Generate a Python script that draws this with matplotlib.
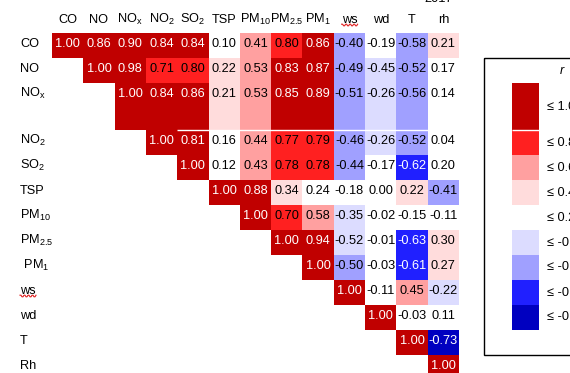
import numpy as np
import matplotlib
matplotlib.use("Agg")
import matplotlib.pyplot as plt
from matplotlib.colors import ListedColormap
from matplotlib.patches import Rectangle
from matplotlib.lines import Line2D
from matplotlib.transforms import IdentityTransform

plt.rcParams['font.family'] = ['Liberation Sans', 'DejaVu Sans']
plt.rcParams['mathtext.fontset'] = 'custom'
plt.rcParams['mathtext.rm'] = 'Liberation Sans'
plt.rcParams['mathtext.it'] = 'Liberation Sans:italic'
plt.rcParams['mathtext.bf'] = 'Liberation Sans:bold'

# variables (order of rows and columns)
names = ["CO", "NO", "NOx", "NO2", "SO2", "TSP", "PM10", "PM2.5", "PM1", "ws", "wd", "T", "rh"]
col_labels = ["CO", "NO", "NO$_{\\mathrm{x}}$", "NO$_2$", "SO$_2$", "TSP", "PM$_{10}$",
              "PM$_{2.5}$", "PM$_1$", "ws", "wd", "T", "rh"]
row_labels = ["CO", "NO", "NO$_{\\mathrm{x}}$", "NO$_2$", "SO$_2$", "TSP", "PM$_{10}$",
              "PM$_{2.5}$", " PM$_1$", "ws", "wd", "T", "Rh"]

# upper triangle of the correlation matrix, diagonal first
upper_rows = [
    [1.00, 0.86, 0.90, 0.84, 0.84, 0.10, 0.41, 0.80, 0.86, -0.40, -0.19, -0.58, 0.21],
    [1.00, 0.98, 0.71, 0.80, 0.22, 0.53, 0.83, 0.87, -0.49, -0.45, -0.52, 0.17],
    [1.00, 0.84, 0.86, 0.21, 0.53, 0.85, 0.89, -0.51, -0.26, -0.56, 0.14],
    [1.00, 0.81, 0.16, 0.44, 0.77, 0.79, -0.46, -0.26, -0.52, 0.04],
    [1.00, 0.12, 0.43, 0.78, 0.78, -0.44, -0.17, -0.62, 0.20],
    [1.00, 0.88, 0.34, 0.24, -0.18, 0.00, 0.22, -0.41],
    [1.00, 0.70, 0.58, -0.35, -0.02, -0.15, -0.11],
    [1.00, 0.94, -0.52, -0.01, -0.63, 0.30],
    [1.00, -0.50, -0.03, -0.61, 0.27],
    [1.00, -0.11, 0.45, -0.22],
    [1.00, -0.03, 0.11],
    [1.00, -0.73],
    [1.00],
]

# shading classes (right closed), from dark blue to dark red
class_bounds = [-0.7, -0.6, -0.4, -0.2, 0.2, 0.4, 0.6, 0.8]
class_tops = class_bounds + [1.0]
class_colors = ["#0000C0", "#2020FF", "#A0A0FF", "#DCDCFF", "#FFFFFF",
                "#FFDCDC", "#FFA0A0", "#FF2020", "#C00000"]
white_text = [0, 1, 8]

# cells whose shade in the table differs from its class
shade_override = {("NO", "wd"): 3, ("TSP", "PM1"): 4, ("PM2.5", "ws"): 3}

# table row heights (NOx row is taller)
row_heights = [1, 1, 1.88] + [1] * 10
edges = np.concatenate([[0], np.cumsum(row_heights)])

n = len(names)
r = np.full((n, n), np.nan)
for i, vals in enumerate(upper_rows):
    r[i, i:] = vals

cls = np.digitize(np.nan_to_num(r), class_bounds, right=True)
for (a, b), k in shade_override.items():
    cls[names.index(a), names.index(b)] = k
cls = np.ma.masked_where(np.isnan(r), cls)

fig = plt.figure(figsize=(5.7, 3.73), dpi=100)
W, H = 570.0, 373.0
top_px, unit = 33.0, 25.0
bottom_px = top_px + edges[-1] * unit

ax = fig.add_axes([52 / W, (H - bottom_px) / H, 407 / W, (bottom_px - top_px) / H])
cmap = ListedColormap(class_colors)
ax.pcolormesh(np.arange(n + 1), edges, cls, cmap=cmap, vmin=-0.5, vmax=8.5,
              shading="flat", edgecolors="none", antialiased=False)
ax.hlines(edges[3], 4, 12, color="white", lw=1)
ax.set_xlim(0, n)
ax.set_ylim(edges[-1], 0)
for s in ax.spines.values():
    s.set_visible(False)
ax.set_xticks([])
ax.set_yticks([])

fs = 9.2
for i in range(n):
    for j in range(i, n):
        k = cls[i, j]
        ax.text(j + 0.5, edges[i] + 0.56, "{:.2f}".format(r[i, j]), ha="center", va="baseline",
                fontsize=fs, color="white" if k in white_text else "black")

header_texts = []
for j, lab in enumerate(col_labels):
    t = ax.text(j + 0.5, -0.4, lab, ha="center", va="baseline", fontsize=fs, clip_on=False)
    header_texts.append(t)

row_texts = []
for i, lab in enumerate(row_labels):
    t = ax.text(-32 / 407, edges[i] + 0.56, lab, ha="left", va="baseline", fontsize=fs,
                transform=ax.get_yaxis_transform(), clip_on=False)
    row_texts.append(t)

ax.text(12.36, -1.24, "2017", ha="center", va="baseline", fontsize=fs, clip_on=False)

# legend table
ax_leg = fig.add_axes([484 / W, (H - bottom_px) / H, 116 / W, (bottom_px - top_px) / H], sharey=ax)
ax_leg.set_xlim(0, 1)
ax_leg.set_axis_off()
leg_rows = [2 + (len(class_colors) - 1 - k) for k in range(len(class_colors))]
ax_leg.barh([edges[rw] for rw in leg_rows], 0.235, height=[row_heights[rw] for rw in leg_rows],
            left=0.24, align="edge", color=class_colors)
ax_leg.hlines(edges[3], 0.24, 0.475, color="white", lw=1)
for k, rw in enumerate(leg_rows):
    yc = (edges[rw] + edges[rw + 1]) / 2
    ax_leg.text(0.543, yc + 0.12, "\u2264 {:.2f}".format(class_tops[k]), ha="left", va="baseline",
                fontsize=fs, clip_on=False)
ax_leg.text(0.67, edges[1] + 0.64, "r", style="italic", ha="center", va="baseline", fontsize=fs)
ax_leg.add_patch(Rectangle((0, edges[1]), 3, edges[12] - edges[1], fill=False, ec="black",
                           lw=1, clip_on=False))

# spell-check squiggle under "ws"
fig.canvas.draw()
for t in (header_texts[names.index("ws")], row_texts[names.index("ws")]):
    bb = t.get_window_extent()
    xs = np.arange(bb.x0, bb.x1 + 1, 1.0)
    ys = bb.y0 + 1.0 + np.where(np.arange(len(xs)) % 4 < 2, 0.8, -0.8)
    fig.add_artist(Line2D(xs, ys, color="#E02020", lw=0.8, transform=IdentityTransform()))

fig.savefig("out.png", dpi=100)
